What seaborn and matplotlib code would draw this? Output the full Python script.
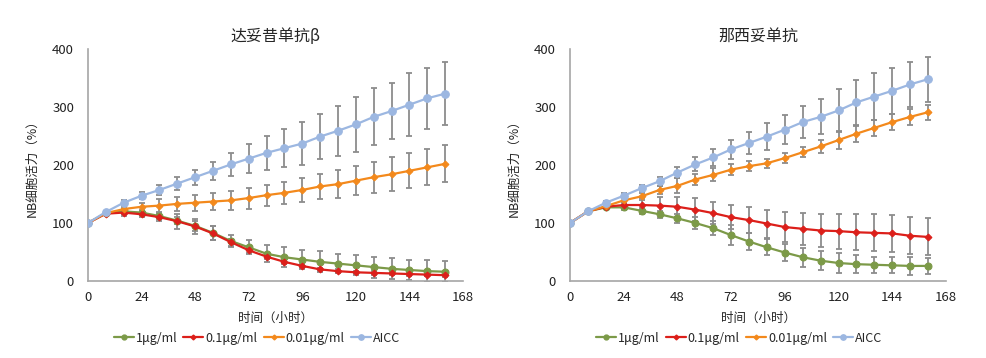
import matplotlib
matplotlib.use('Agg')
import matplotlib.pyplot as plt
import seaborn as sns
import pandas as pd
import numpy as np

# time points (hours)
hours = [0, 8, 16, 24, 32, 40, 48, 56, 64, 72, 80, 88, 96, 104, 112, 120, 128, 136, 144, 152, 160]
series_names = ["1μg/ml", "0.1μg/ml", "0.01μg/ml", "AICC"]
titles = ["达妥昔单抗β", "那西妥单抗"]

# 达妥昔单抗β
left_1ug = [100, 117, 120, 118, 112, 104, 95, 83, 69, 58, 47, 41, 37, 33, 30, 27, 24, 21, 19, 17, 16]
left_1ug_err = [0, 2, 4, 4, 5, 6, 8, 12, 10, 12, 15, 17, 17, 18, 17, 17, 18, 18, 17, 19, 18]
left_01ug = [100, 116, 118, 115, 110, 103, 94, 82, 67, 53, 42, 33, 26, 20, 17, 15, 14, 13, 12, 11, 10]
left_01ug_err = [0, 2, 6, 5, 6, 13, 13, 12, 6, 5, 4, 4, 3, 3, 3, 3, 3, 3, 3, 3, 3]
left_001ug = [100, 117, 124, 128, 130, 133, 135, 137, 139, 143, 148, 152, 157, 163, 167, 173, 179, 184, 190, 196, 202]
left_001ug_err = [0, 2, 4, 7, 11, 12, 14, 15, 17, 18, 18, 19, 21, 21, 24, 25, 27, 29, 30, 31, 32]
left_aicc = [100, 119, 135, 147, 157, 168, 179, 190, 201, 211, 221, 229, 237, 249, 259, 270, 283, 293, 304, 315, 323]
left_aicc_err = [0, 2, 5, 6, 8, 11, 13, 16, 20, 25, 29, 33, 37, 39, 43, 47, 49, 49, 54, 53, 54]

# 那西妥单抗
right_1ug = [100, 120, 127, 127, 121, 115, 108, 100, 91, 79, 68, 58, 49, 41, 35, 31, 29, 28, 27, 26, 26]
right_1ug_err = [0, 2, 3, 4, 5, 6, 8, 10, 12, 17, 15, 14, 15, 16, 16, 17, 16, 14, 14, 16, 14]
right_01ug = [100, 120, 128, 131, 131, 130, 128, 123, 117, 110, 105, 99, 93, 90, 87, 86, 84, 83, 82, 78, 76]
right_01ug_err = [0, 2, 4, 6, 12, 15, 17, 20, 19, 21, 22, 24, 26, 28, 29, 30, 31, 32, 32, 32, 32]
right_001ug = [100, 120, 129, 139, 146, 157, 164, 175, 183, 192, 198, 203, 212, 222, 232, 243, 254, 264, 274, 283, 291]
right_001ug_err = [0, 2, 3, 5, 6, 7, 13, 10, 11, 10, 9, 8, 9, 9, 11, 15, 14, 14, 14, 14, 13]
right_aicc = [100, 120, 135, 147, 160, 172, 187, 201, 213, 227, 238, 249, 261, 274, 283, 294, 308, 318, 328, 339, 348]
right_aicc_err = [0, 2, 3, 4, 5, 8, 9, 12, 14, 16, 19, 23, 25, 27, 30, 37, 39, 40, 40, 39, 39]

colors = {"1μg/ml": "#7c9a48", "0.1μg/ml": "#dc1f1a", "0.01μg/ml": "#f3891c", "AICC": "#9cb7e1"}
markers = {"1μg/ml": "o", "0.1μg/ml": "D", "0.01μg/ml": "D", "AICC": "o"}
msizes = {"1μg/ml": 5, "0.1μg/ml": 3.5, "0.01μg/ml": 3.5, "AICC": 5.5}

panels = [
    ([left_1ug, left_01ug, left_001ug, left_aicc],
     [left_1ug_err, left_01ug_err, left_001ug_err, left_aicc_err]),
    ([right_1ug, right_01ug, right_001ug, right_aicc],
     [right_1ug_err, right_01ug_err, right_001ug_err, right_aicc_err]),
]

sns.set_theme(style="white")
plt.rcParams['font.family'] = ['Noto Sans CJK SC', 'DejaVu Sans']

fig = plt.figure(figsize=(9.87, 3.58), dpi=100)
axes = [fig.add_axes([88 / 987, 1 - 281 / 358, 375 / 987, 232 / 358]),
        fig.add_axes([570 / 987, 1 - 281 / 358, 376 / 987, 232 / 358])]

for ax, title, (vals, errs) in zip(axes, titles, panels):
    rows = []
    for name, v in zip(series_names, vals):
        for h, y in zip(hours, v):
            rows.append({"hour": h, "value": y, "group": name})
    df = pd.DataFrame(rows)

    # error bars first (gray), then lines on top
    for name, v, e in zip(series_names, vals, errs):
        ax.errorbar(hours, v, yerr=e, fmt='none', ecolor='#8c8c8c',
                    elinewidth=1.3, capsize=2.5, capthick=1.3, zorder=1)

    for name in series_names:
        sub = df[df["group"] == name]
        sns.lineplot(data=sub, x="hour", y="value", ax=ax, color=colors[name],
                     marker=markers[name], markersize=msizes[name],
                     markeredgecolor=colors[name], linewidth=1.6,
                     label=name, zorder=3, legend=False)

    ax.set_xlim(0, 168)
    ax.set_ylim(0, 400)
    ax.set_xticks(np.arange(0, 169, 24))
    ax.set_yticks([0, 100, 200, 300, 400])
    ax.tick_params(axis='both', labelsize=9.5, colors='#222222')
    ax.tick_params(axis='x', direction='out', length=4, color='#999999', width=1)
    ax.tick_params(axis='y', length=0, pad=10)
    for s in ["top", "right"]:
        ax.spines[s].set_visible(False)
    for s in ["left", "bottom"]:
        ax.spines[s].set_color('#a6a6a6')
        ax.spines[s].set_linewidth(1.2)
    ax.set_title(title, fontsize=11.5, pad=6)
    ax.set_xlabel("时间（小时）", fontsize=9, labelpad=5)
    ax.set_ylabel("NB细胞活力（%）", fontsize=9, labelpad=10)

    handles = [plt.Line2D([], [], color=colors[n], marker=markers[n],
                          markersize=msizes[n] * 0.7, linewidth=1.6) for n in series_names]
    ax.legend(handles, series_names, loc='upper center', bbox_to_anchor=(0.45, -0.17),
              ncol=4, frameon=False, fontsize=9, handlelength=1.6,
              handletextpad=0.15, columnspacing=0.5)

fig.savefig("out.png", dpi=100)
